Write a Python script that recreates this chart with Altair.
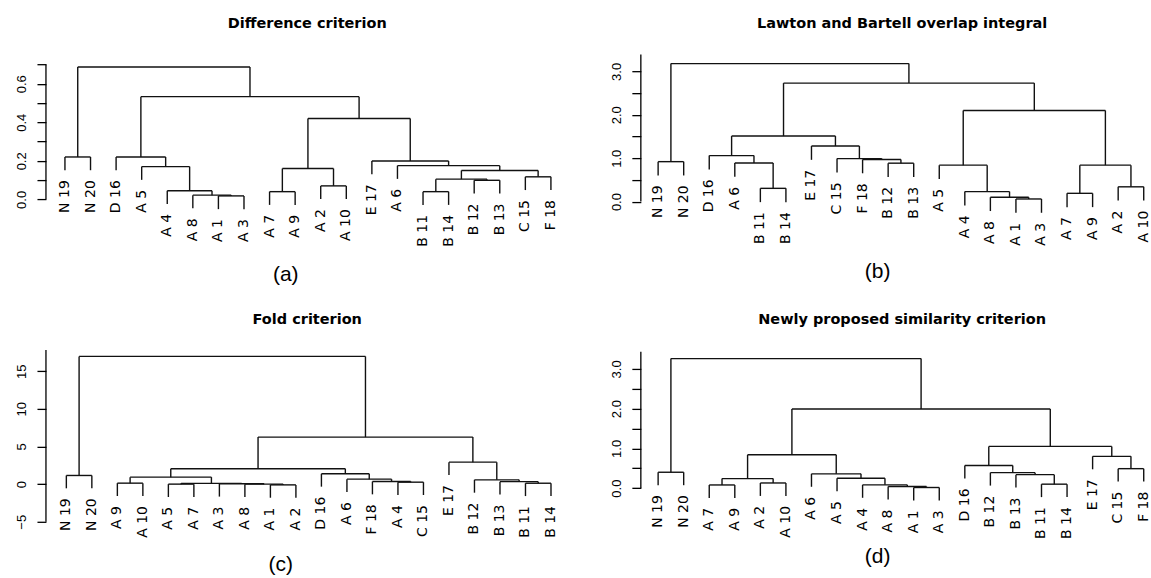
import altair as alt
import pandas as pd

# ---------------- data ----------------
order_a = ["N 19", "N 20", "D 16", "A 5", "A 4", "A 8", "A 1", "A 3", "A 7", "A 9",
           "A 2", "A 10", "E 17", "A 6", "B 11", "B 14", "B 12", "B 13", "C 15", "F 18"]
merges_a = [("A 1", "A 3", 0.018), ("A 8", 0, 0.022), ("A 4", 1, 0.045), ("A 5", 2, 0.17),
            ("D 16", 3, 0.22), ("N 19", "N 20", 0.22), ("A 7", "A 9", 0.04), ("A 2", "A 10", 0.07),
            (6, 7, 0.16), ("B 11", "B 14", 0.04), ("B 12", "B 13", 0.099), (9, 10, 0.105),
            ("C 15", "F 18", 0.117), (11, 12, 0.15), ("A 6", 13, 0.175), ("E 17", 14, 0.199),
            (8, 15, 0.42), (4, 16, 0.533), (5, 17, 0.687)]

order_b = ["N 19", "N 20", "D 16", "A 6", "B 11", "B 14", "E 17", "C 15", "F 18", "B 12",
           "B 13", "A 5", "A 4", "A 8", "A 1", "A 3", "A 7", "A 9", "A 2", "A 10"]
merges_b = [("N 19", "N 20", 0.92), ("B 11", "B 14", 0.305), ("A 6", 1, 0.89), ("D 16", 2, 1.06),
            ("B 12", "B 13", 0.885), ("F 18", 4, 0.97), ("C 15", 5, 0.99), ("E 17", 6, 1.28),
            (3, 7, 1.51), ("A 1", "A 3", 0.06), ("A 8", 9, 0.10), ("A 4", 10, 0.23),
            ("A 5", 11, 0.84), ("A 7", "A 9", 0.19), ("A 2", "A 10", 0.34), (13, 14, 0.84),
            (12, 15, 2.10), (8, 16, 2.73), (0, 17, 3.18)]

order_c = ["N 19", "N 20", "A 9", "A 10", "A 5", "A 7", "A 3", "A 8", "A 1", "A 2",
           "D 16", "A 6", "F 18", "A 4", "C 15", "E 17", "B 12", "B 13", "B 11", "B 14"]
merges_c = [("N 19", "N 20", 1.15), ("A 9", "A 10", 0.13), ("A 5", "A 7", 0.0), ("A 1", "A 2", -0.1),
            ("A 8", 3, 0.0), ("A 3", 4, 0.05), (2, 5, 0.1), (1, 6, 0.93), ("A 4", "C 15", 0.26),
            ("F 18", 8, 0.35), ("A 6", 9, 0.66), ("D 16", 10, 1.37), (7, 11, 2.05),
            ("B 11", "B 14", 0.12), ("B 13", 13, 0.33), ("B 12", 14, 0.57), ("E 17", 15, 2.92),
            (12, 16, 6.25), (0, 17, 16.97)]

order_d = ["N 19", "N 20", "A 7", "A 9", "A 2", "A 10", "A 6", "A 5", "A 4", "A 8",
           "A 1", "A 3", "D 16", "B 12", "B 13", "B 11", "B 14", "E 17", "C 15", "F 18"]
merges_d = [("N 19", "N 20", 0.40), ("A 7", "A 9", 0.08), ("A 2", "A 10", 0.13), (1, 2, 0.24),
            ("A 1", "A 3", 0.016), ("A 8", 4, 0.04), ("A 4", 5, 0.083), ("A 5", 6, 0.25),
            ("A 6", 7, 0.36), (3, 8, 0.84), ("B 11", "B 14", 0.10), ("B 13", 10, 0.34),
            ("B 12", 11, 0.39), ("D 16", 12, 0.57), ("C 15", "F 18", 0.49), ("E 17", 14, 0.80),
            (13, 15, 1.05), (9, 16, 1.99), (0, 17, 3.26)]

titles = ["Difference criterion", "Lawton and Bartell overlap integral",
          "Fold criterion", "Newly proposed similarity criterion"]
tags = ["(a)", "(b)", "(c)", "(d)"]
axis_ranges = [(0.0, 0.70), (0.0, 3.39), (-5.0, 17.83), (0.0, 3.435)]
tick_values = [[0, 0.1, 0.2, 0.3, 0.4, 0.5, 0.6, 0.7],
               [0, 0.5, 1.0, 1.5, 2.0, 2.5, 3.0],
               [-5, 0, 5, 10, 15],
               [0, 0.5, 1.0, 1.5, 2.0, 2.5, 3.0]]

# ---------------- layout settings ----------------
W, H = 505, 175
x_domains = [(0.2578, 0.2578 + W / 25.6), (0.3237, 0.3237 + W / 25.58),
             (0.2009, 0.2009 + W / 25.53), (0.3237, 0.3237 + W / 25.58)]
y_domains = [(-0.1333, 0.7741), (-0.5411, 3.4884), (-5.005, 18.226), (-0.847, 3.553)]
label_exprs = ["round(datum.value*10) % 2 == 0 ? format(datum.value, '.1f') : ''",
               "round(datum.value*2) % 2 == 0 ? format(datum.value, '.1f') : ''",
               "format(datum.value, 'd')",
               "round(datum.value*2) % 2 == 0 ? format(datum.value, '.1f') : ''"]
tag_pos = [(240, 225), (237, 222), (235, 218), (237, 210)]


def build_rows(order, merges, axis_range):
    pos = {name: i + 1 for i, name in enumerate(order)}
    hs = [m[2] for m in merges]
    hang = 0.1 * (max(hs) - min(0, min(hs)))
    nodes = []
    rows = []

    def child(c, h):
        if isinstance(c, int):
            cx, ch = nodes[c]
            rows.append(dict(kind="seg", x=cx, y=ch, x2=cx, y2=h, label=""))
            return cx
        cx = pos[c]
        rows.append(dict(kind="seg", x=cx, y=h - hang, x2=cx, y2=h, label=""))
        rows.append(dict(kind="leaf", x=cx, y=h - hang, x2=cx, y2=h - hang, label=c))
        return cx

    for a, b, h in merges:
        xa = child(a, h)
        xb = child(b, h)
        rows.append(dict(kind="seg", x=xa, y=h, x2=xb, y2=h, label=""))
        nodes.append(((xa + xb) / 2, h))
    rows.append(dict(kind="axis", x=0, y=axis_range[0], x2=0, y2=axis_range[1], label=""))
    return pd.DataFrame(rows)


def panel(i, order, merges):
    df = build_rows(order, merges, axis_ranges[i])
    base = alt.Chart(df).encode(
        x=alt.X("x:Q", scale=alt.Scale(domain=list(x_domains[i]), nice=False, zero=False), axis=None),
        y=alt.Y("y:Q", scale=alt.Scale(domain=list(y_domains[i]), nice=False, zero=False),
                axis=alt.Axis(values=tick_values[i], labelExpr=label_exprs[i], domain=False,
                              grid=False, title=None, tickSize=9, tickColor="black", tickWidth=1.3,
                              labelAngle=270, labelAlign="center", labelBaseline="alphabetic",
                              labelPadding=11, labelFont="Liberation Sans", labelFontSize=13,
                              labelColor="black", labelOverlap=False)),
    )
    segs = base.transform_filter("datum.kind == 'seg'").mark_rule(
        color="#111111", strokeWidth=1.4).encode(x2="x2:Q", y2="y2:Q")
    leaves = base.transform_filter("datum.kind == 'leaf'").mark_text(
        angle=270, align="right", baseline="middle", dx=-10, font="DejaVu Sans",
        fontSize=14, color="black").encode(text="label:N")
    axline = base.transform_filter("datum.kind == 'axis'").mark_rule(
        color="black", strokeWidth=1.3).encode(x=alt.value(0), y2="y2:Q")
    tag_df = pd.DataFrame({"tag": [tags[i]]})
    tag = alt.Chart(tag_df).mark_text(
        font="Liberation Sans", fontSize=21, color="black", baseline="middle", align="center"
    ).encode(text="tag:N", x=alt.value(tag_pos[i][0]), y=alt.value(tag_pos[i][1]))
    return alt.layer(segs, leaves, axline, tag).properties(
        width=W, height=H,
        title=alt.TitleParams(titles[i], font="DejaVu Sans", fontSize=14.5, fontWeight="bold",
                              anchor="middle", frame="group", offset=19, dx=9, color="black"),
    )


pa = panel(0, order_a, merges_a)
pb = panel(1, order_b, merges_b)
pc = panel(2, order_c, merges_c)
pd_ = panel(3, order_d, merges_d)

chart = alt.concat(
    pa, pb, pc, pd_, columns=2, bounds="flush",
    spacing=alt.RowColnumber(row=347 - 50 - H, column=640.7 - 45.3 - W),
).properties(
    padding={"left": 15, "top": 15, "right": 0, "bottom": 0}, background="white"
).configure_view(stroke=None)

chart.save("out.html", embed_options={"renderer": "svg", "actions": False})
